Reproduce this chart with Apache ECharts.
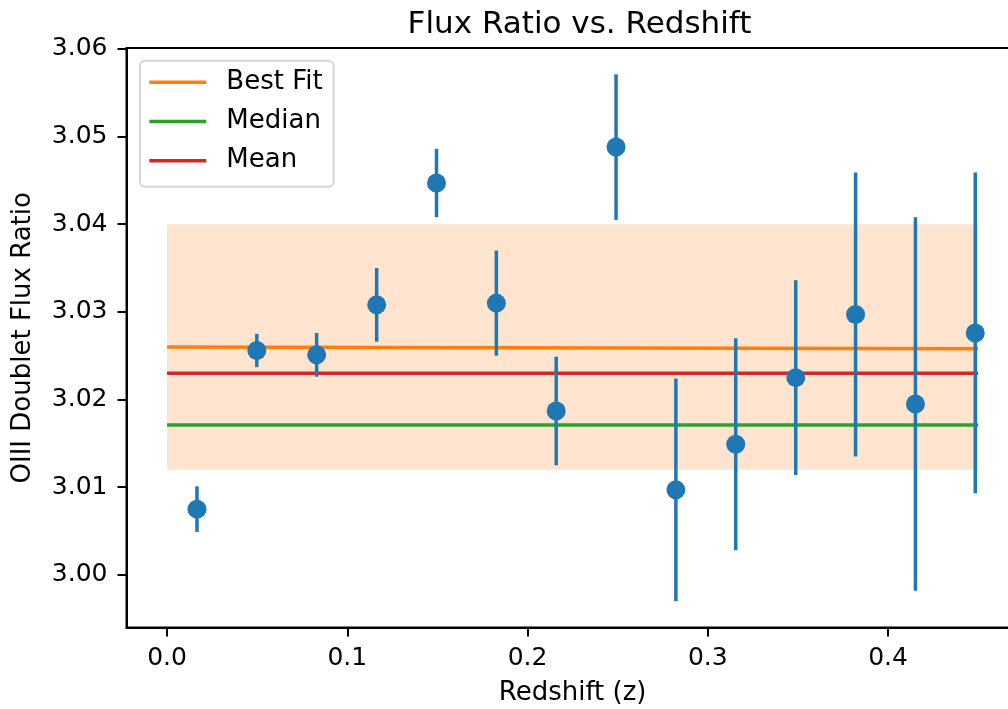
<!DOCTYPE html>
<html>
<head>
<meta charset="utf-8">
<script src="https://cdn.jsdelivr.net/npm/echarts@6/dist/echarts.min.js"></script>
<style>
  html, body { margin: 0; padding: 0; background: #fff; }
  #chart { width: 1008px; height: 709px; }
</style>
</head>
<body>
<div id="chart"></div>
<script>
// ---- data ----
const redshift = [0.0166, 0.0498, 0.0830, 0.1163, 0.1495, 0.1827, 0.2159, 0.2491, 0.2823, 0.3155, 0.3488, 0.3820, 0.4152, 0.4484];
const fluxRatio = [3.0075, 3.0256, 3.0251, 3.0308, 3.0447, 3.0310, 3.0187, 3.0488, 3.0097, 3.0149, 3.0225, 3.0297, 3.0195, 3.0276];
const fluxError = [0.0026, 0.0019, 0.0025, 0.0042, 0.0039, 0.0060, 0.0062, 0.0083, 0.0127, 0.0121, 0.0111, 0.0162, 0.0213, 0.0183];
const lineX = [0, 0.45];
const bestFitY = [3.0260, 3.0258];
const medianY = [3.0171, 3.0171];
const meanY = [3.0230, 3.0230];
const bandX = [0, 0.45];
const bandY = [3.012, 3.040];
const xTicks = [0.0, 0.1, 0.2, 0.3, 0.4];
const yTicks = [3.00, 3.01, 3.02, 3.03, 3.04, 3.05, 3.06];

const FONT = 'DejaVu Sans';
const chart = echarts.init(document.getElementById('chart'), null, { renderer: 'canvas' });

const pts = redshift.map((x, i) => [x, fluxRatio[i]]);
const errs = redshift.map((x, i) => [x, fluxRatio[i] - fluxError[i], fluxRatio[i] + fluxError[i]]);
const pair = (xs, ys) => xs.map((x, i) => [x, ys[i]]);

const option = {
  animation: false,
  backgroundColor: '#fff',
  title: {
    text: 'Flux Ratio vs. Redshift',
    left: 574.5, top: 4.5, textAlign: 'center',
    textStyle: { fontFamily: FONT, fontSize: 31, fontWeight: 'normal', color: '#000' }
  },
  grid: {
    left: 126.5, top: 48, width: 892.2, height: 579.5,
    containLabel: false, outerBoundsMode: 'none',
    show: true, borderColor: '#000', borderWidth: 2, backgroundColor: 'transparent'
  },
  legend: {
    orient: 'vertical', left: 140, top: 60.7,
    data: [
      { name: 'Best Fit', icon: 'rect' },
      { name: 'Median', icon: 'rect' },
      { name: 'Mean', icon: 'rect' }
    ],
    itemWidth: 57, itemHeight: 3.5, itemGap: 13.2,
    padding: [8.6, 11, 13, 9.3],
    backgroundColor: 'rgba(255,255,255,0.8)',
    borderColor: '#d6d6d6', borderWidth: 2, borderRadius: 5,
    textStyle: { fontFamily: FONT, fontSize: 26, color: '#000', lineHeight: 26, padding: [0, 0, 0, 15] },
    selectedMode: false
  },
  xAxis: {
    type: 'value', min: -0.0225, max: 0.4725,
    name: 'Redshift (z)', nameLocation: 'middle', nameGap: 53,
    nameTextStyle: { fontFamily: FONT, fontSize: 26, color: '#000' },
    axisLine: { show: true, onZero: false, lineStyle: { color: '#000', width: 2 } },
    axisTick: { show: true, inside: false, length: 9, lineStyle: { color: '#000', width: 2 }, customValues: xTicks },
    axisLabel: { show: true, margin: 18, fontFamily: FONT, fontSize: 25, color: '#000', customValues: xTicks,
      formatter: v => v.toFixed(1) },
    splitLine: { show: false }
  },
  yAxis: {
    type: 'value', min: 2.9940, max: 3.0601,
    name: 'OIII Doublet Flux Ratio', nameLocation: 'middle', nameGap: 90, nameRotate: 90,
    nameTextStyle: { fontFamily: FONT, fontSize: 26, color: '#000' },
    axisLine: { show: true, onZero: false, lineStyle: { color: '#000', width: 2 } },
    axisTick: { show: true, inside: false, length: 9, lineStyle: { color: '#000', width: 2 }, customValues: yTicks },
    axisLabel: { show: true, margin: 19, fontFamily: FONT, fontSize: 25, color: '#000', customValues: yTicks,
      formatter: v => v.toFixed(2) },
    splitLine: { show: false }
  },
  series: [
    {
      name: 'band', type: 'custom', z: 1, silent: true,
      data: [[bandX[0], bandY[0], bandX[1], bandY[1]]],
      renderItem: (params, api) => {
        const p0 = api.coord([api.value(0), api.value(3)]);
        const p1 = api.coord([api.value(2), api.value(1)]);
        return { type: 'rect', shape: { x: p0[0], y: p0[1], width: p1[0] - p0[0], height: p1[1] - p0[1] },
          style: { fill: 'rgba(255,127,14,0.2)' } };
      }
    },
    { name: 'Best Fit', type: 'line', z: 2, symbol: 'none', silent: true, data: pair(lineX, bestFitY),
      itemStyle: { color: '#ff7f0e' }, lineStyle: { color: '#ff7f0e', width: 3.5 } },
    { name: 'Median', type: 'line', z: 2, symbol: 'none', silent: true, data: pair(lineX, medianY),
      itemStyle: { color: '#2ca02c' }, lineStyle: { color: '#2ca02c', width: 3.5 } },
    { name: 'Mean', type: 'line', z: 2, symbol: 'none', silent: true, data: pair(lineX, meanY),
      itemStyle: { color: '#d62728' }, lineStyle: { color: '#d62728', width: 3.5 } },
    {
      name: 'errors', type: 'custom', z: 3, silent: true, data: errs,
      renderItem: (params, api) => {
        const a = api.coord([api.value(0), api.value(1)]);
        const b = api.coord([api.value(0), api.value(2)]);
        return { type: 'line', shape: { x1: a[0], y1: a[1], x2: b[0], y2: b[1] },
          style: { stroke: '#1f77b4', lineWidth: 3.5 } };
      }
    },
    { name: 'points', type: 'scatter', z: 4, silent: true, data: pts, symbol: 'circle', symbolSize: 19,
      itemStyle: { color: '#1f77b4', opacity: 1 } }
  ]
};
chart.setOption(option);
</script>
</body>
</html>
